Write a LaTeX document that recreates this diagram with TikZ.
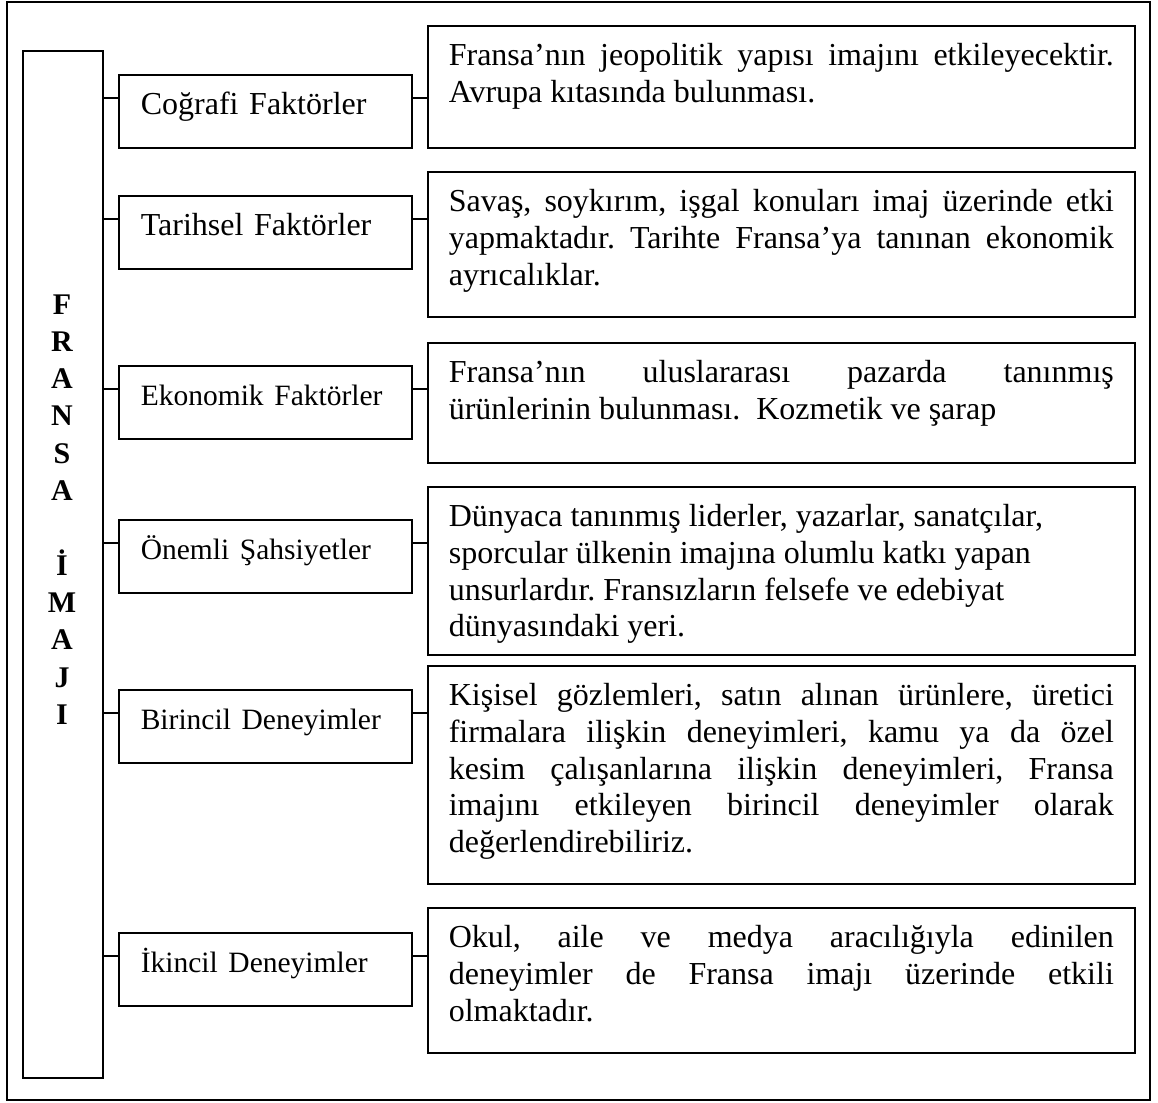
\documentclass[tikz,border=0pt]{standalone}
\usepackage{fontspec}
\setmainfont{Liberation Serif}
\frenchspacing
\tikzset{ fk/.style = { rectangle % faktor kutusu
        , draw
        , line width = 1.6pt
        , anchor = north west
        , text width = 249pt
        , align = left
        , inner xsep = 22pt
        , inner ysep = 18pt
        , text height = 22pt
        , text depth = 15pt
        , font = \fontsize{32}{36}\selectfont
        }
        , ac/.style = { rectangle % aciklama kutusu
        , draw
        , line width = 1.6pt
        , anchor = north west
        , text width = 665pt
        , align = justify
        , inner xsep = 21pt
        , inner ysep = 18pt
        , text height = 22pt
        , font = \fontsize{32}{36.7}\selectfont
        }
        , cn/.style = { line width = 1.6pt % baglanti
        }
}
\def\kucuk{\fontsize{29.5}{36}\selectfont}% kucuk yazi
\def\satir(#1,#2,#3,#4)#5#6{% satir: no, sol ust, sag ust, derinlik
  \node[fk] (f#1) at (118,#2) {#5};
  \node[ac, text depth=#4pt] (a#1) at (427,#3) {#6};
  \coordinate (j#1) at (0,#2+24);
  \draw[cn] (baslik.east |- j#1) -- (f#1.west |- j#1);
  \draw[cn] (f#1.east |- j#1) -- (a#1.west |- j#1);
}
\begin{document}
\begin{tikzpicture}[x=1pt, y=-1pt]
  \useasboundingbox (0,0) rectangle (1158,1102);
  \draw[line width=1.6pt] (7,2) rectangle (1150,1100);
  \node[draw, line width=1.6pt, anchor=north west, inner sep=0pt
       , minimum width=80pt, minimum height=1027pt] (baslik) at (22,50) {};
  \node[font=\bfseries\fontsize{30}{37.3}\selectfont, text width=40pt
       , align=center, anchor=base] (yazi) at (62,314)
       {F\\R\\A\\N\\S\\A\\[37.3pt]İ\\M\\A\\J\\I};

  \satir(1,74,25,64){Coğrafi Faktörler}
    {Fransa’nın jeopolitik yapısı imajını etkileyecektir.\linebreak
     Avrupa kıtasında bulunması.}
  \satir(2,195,171,87){Tarihsel Faktörler}
    {Savaş, soykırım, işgal konuları imaj üzerinde etki\linebreak
     yapmaktadır. Tarihte Fransa’ya tanınan ekonomik\linebreak
     ayrıcalıklar.}
  \satir(3,365,342,62){\kucuk Ekonomik Faktörler}
    {Fransa’nın uluslararası pazarda tanınmış\linebreak
     ürünlerinin bulunması.\ \ Kozmetik ve şarap}
  \satir(4,519,486,110){\kucuk Önemli Şahsiyetler}
    {\raggedright Dünyaca tanınmış liderler, yazarlar, sanatçılar,\\
     sporcular ülkenin imajına olumlu katkı yapan\\
     unsurlardır. Fransızların felsefe ve edebiyat\\
     dünyasındaki yeri.}
  \satir(5,689,665,160){\kucuk Birincil Deneyimler}
    {Kişisel gözlemleri, satın alınan ürünlere, üretici\linebreak
     firmalara ilişkin deneyimleri, kamu ya da özel\linebreak
     kesim çalışanlarına ilişkin deneyimleri, Fransa\linebreak
     imajını etkileyen birincil deneyimler olarak\linebreak
     değerlendirebiliriz.}
  \satir(6,932,907,87){\kucuk İkincil Deneyimler}
    {Okul, aile ve medya aracılığıyla edinilen\linebreak
     deneyimler de Fransa imajı üzerinde etkili\linebreak
     olmaktadır.}
\end{tikzpicture}
\end{document}
